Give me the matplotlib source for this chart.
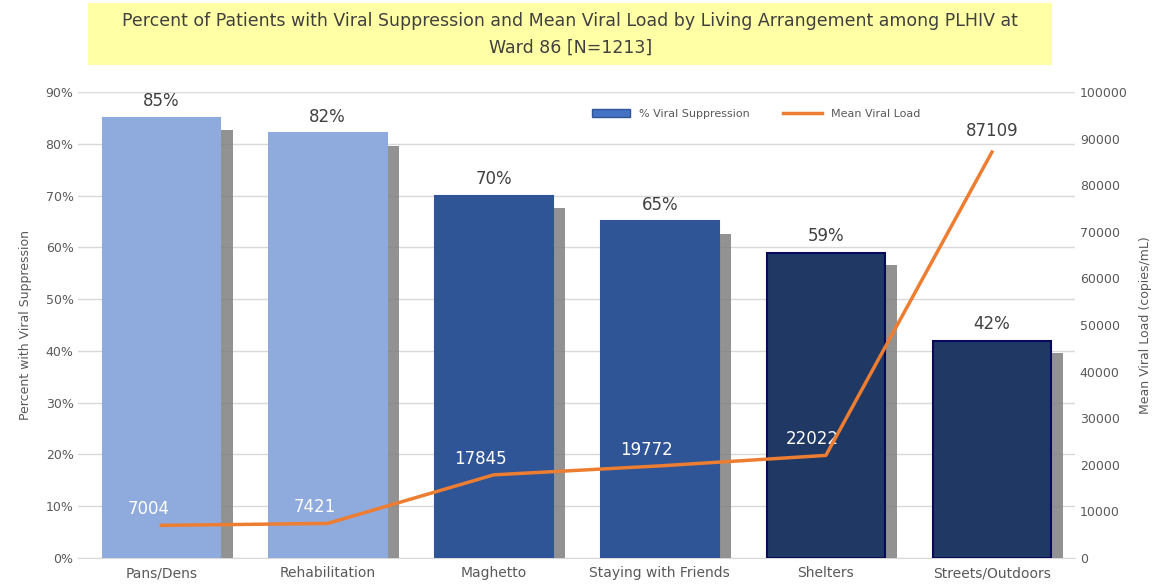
import matplotlib.pyplot as plt
import matplotlib.patheffects as pe
from matplotlib.lines import Line2D
from matplotlib.patches import Patch, Rectangle

# data
categories = ["Pans/Dens", "Rehabilitation", "Maghetto", "Staying with Friends", "Shelters", "Streets/Outdoors"]
suppression = [85, 82, 70, 65, 59, 42]
mean_vl = [7004, 7421, 17845, 19772, 22022, 87109]

bar_colors = ["#8FAADC", "#8FAADC", "#2F5597", "#2F5597", "#1F3864", "#1F3864"]
edge_colors = ["#8FAADC", "#8FAADC", "#2F5597", "#2F5597", "#0A0A5A", "#0A0A5A"]

fig = plt.figure(figsize=(11.71, 5.88), dpi=100)
ax = fig.add_axes([0.067, 0.051, 0.851, 0.7925])
ax2 = ax.twinx()

x = list(range(len(categories)))
bars = ax.bar(x, suppression, width=0.71, color=bar_colors, edgecolor=edge_colors,
              linewidth=1.5, zorder=3)
for b in bars:
    b.set_path_effects([pe.SimplePatchShadow(offset=(9, -9), shadow_rgbFace="#7f7f7f", alpha=0.85),
                        pe.Normal()])
for xi, v in zip(x, suppression):
    ax.text(xi, v + 1.5, f"{v}%", ha="center", va="bottom", fontsize=12, color="#404040")

ax.set_xlim(-0.5, 5.5)
ax.set_ylim(0, 90)
ax.set_yticks(range(0, 91, 10))
ax.set_yticklabels([f"{t}%" for t in range(0, 91, 10)])
ax.yaxis.grid(True, color="#d9d9d9", linewidth=1, zorder=0)
ax.set_axisbelow(True)
ax.set_xticks(x)
ax.set_xticklabels(categories)
ax.tick_params(axis="x", length=0, labelsize=10, labelcolor="#595959", pad=6)
ax.tick_params(axis="y", length=0, labelsize=9, labelcolor="#595959")
ax.set_ylabel("Percent with Viral Suppression", fontsize=9, color="#595959", labelpad=10)
for s in ["top", "right", "left"]:
    ax.spines[s].set_visible(False)
ax.spines["bottom"].set_color("#d9d9d9")

ax2.plot(x, mean_vl, color="#ED7D31", linewidth=2.5, zorder=5)
ax2.set_ylim(0, 100000)
ax2.set_yticks(range(0, 100001, 10000))
ax2.tick_params(axis="y", length=0, labelsize=9, labelcolor="#595959")
ax2.set_ylabel("Mean Viral Load (copies/mL)", fontsize=9, color="#595959", labelpad=8)
for s in ["top", "right", "left", "bottom"]:
    ax2.spines[s].set_visible(False)
for i, (xi, v) in enumerate(zip(x, mean_vl)):
    if i == len(x) - 1:
        ax2.text(xi, v + 2500, str(v), ha="center", va="bottom", fontsize=12, color="#404040")
    else:
        ax2.text(xi - 0.08, v + 1500, str(v), ha="center", va="bottom", fontsize=12, color="white")

handles = [Patch(facecolor="#4472C4", edgecolor="#2F5597"),
           Line2D([0], [0], color="#ED7D31", linewidth=2.5)]
ax2.legend(handles, ["% Viral Suppression", "Mean Viral Load"], loc="upper center",
           bbox_to_anchor=(0.68, 0.985), ncol=2, frameon=False, fontsize=8,
           labelcolor="#595959", handlelength=3.5, columnspacing=3)

fig.patches.append(Rectangle((0.075, 0.889), 0.823, 0.106, transform=fig.transFigure,
                             facecolor="#FFFFA6", edgecolor="none", zorder=0))
fig.text(0.487, 0.942, "Percent of Patients with Viral Suppression and Mean Viral Load by Living Arrangement among PLHIV at\nWard 86 [N=1213]",
         ha="center", va="center", fontsize=12.5, color="#404040", linespacing=1.6)

fig.savefig("out.png", dpi=100)
